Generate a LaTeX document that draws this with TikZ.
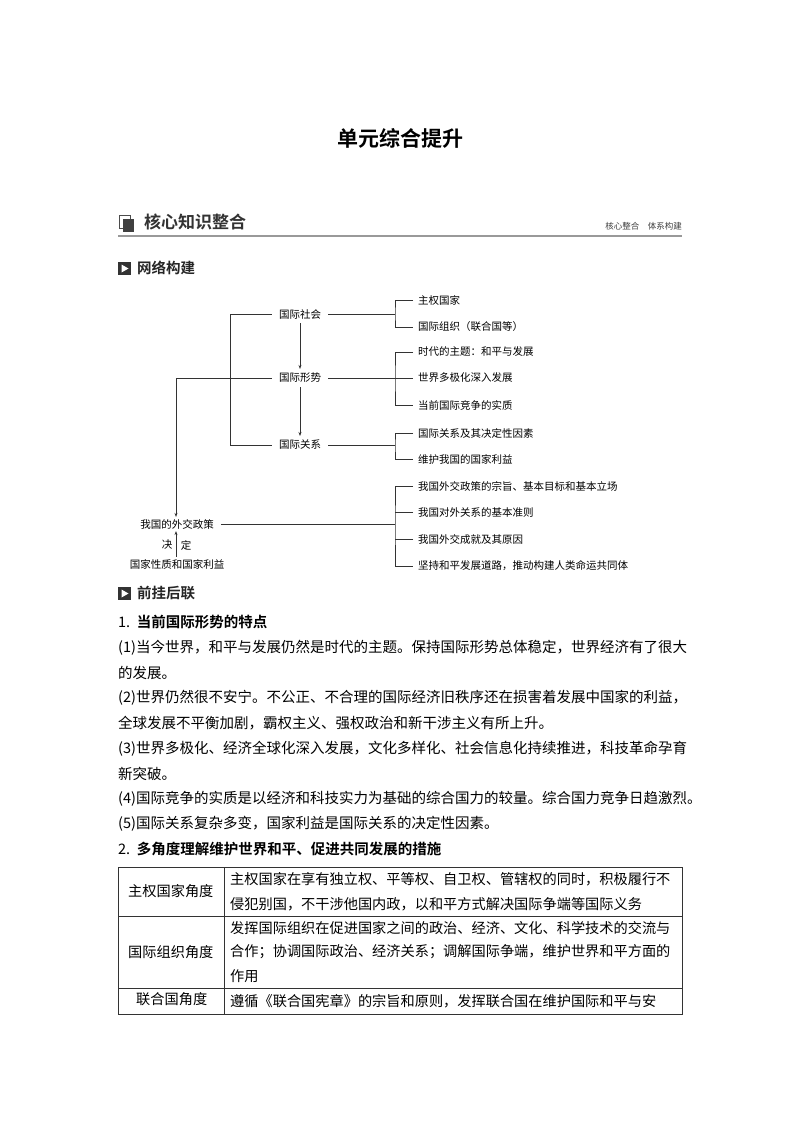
\documentclass[tikz,border=0pt]{standalone}
\usepackage{fontspec}
\setmainfont{Noto Sans CJK SC}
\newfontfamily\cjkb{Noto Sans CJK SC Bold}
\usetikzlibrary{arrows.meta}
\tikzset{
 d/.style={font=\fontsize{10.5}{12}\selectfont,inner xsep=7pt,inner ysep=4pt},
 dl/.style={d,anchor=west,inner xsep=5pt},
 ln/.style={draw=black!80,line width=0.6pt},
 arr/.style={ln,-{Stealth[length=4pt,width=3pt]}},
 body/.style={anchor=west,inner sep=0pt,font=\fontsize{14.5}{16}\selectfont},
 hd/.style={anchor=west,inner sep=0pt,font=\cjkb\fontsize{14.5}{16}\selectfont},
 cell/.style={anchor=west,inner sep=0pt,font=\fontsize{14.2}{16}\selectfont}
}
\begin{document}
\begin{tikzpicture}[x=1pt,y=-1pt]
\useasboundingbox (0,0) rectangle (800,1132);
\fill[white] (0,0) rectangle (800,1132);
\node[font=\cjkb\fontsize{21}{24}\selectfont] (title) at (400,138) {单元综合提升};
% header
\draw[black!70,line width=1pt] (119,215) rectangle (130,228);
\fill[black!75] (123,219) rectangle (134,232);
\node[anchor=west,inner sep=0pt,font=\cjkb\fontsize{17}{19}\selectfont,text=black!80] (h1) at (144,222) {核心知识整合};
\node[anchor=east,inner sep=0pt,font=\fontsize{8.5}{10}\selectfont,text=black!75] (h2) at (682,226) {核心整合\quad 体系构建};
\draw[black!40,line width=1.2pt] (118,236) -- (682,236);
\fill[black!80] (118,262) rectangle (131,275);
\fill[white] (121.5,264.5) -- (128.5,268.5) -- (121.5,272.5) -- cycle;
\node[hd,text=black!85] (s1) at (137,268) {网络构建};
% diagram
\node[d] (gs) at (300,314) {国际社会};
\node[d] (gx) at (300,378) {国际形势};
\node[d] (gg) at (300,445) {国际关系};
\node[dl] (a1) at (413,300) {主权国家};
\node[dl] (a2) at (413,327) {国际组织（联合国等）};
\node[dl] (b1) at (413,352) {时代的主题：和平与发展};
\node[dl] (b2) at (413,378) {世界多极化深入发展};
\node[dl] (b3) at (413,405) {当前国际竞争的实质};
\node[dl] (c1) at (413,433) {国际关系及其决定性因素};
\node[dl] (c2) at (413,459) {维护我国的国家利益};
\node[dl] (e1) at (413,486) {我国外交政策的宗旨、基本目标和基本立场};
\node[dl] (e2) at (413,512) {我国对外关系的基本准则};
\node[dl] (e3) at (413,539) {我国外交成就及其原因};
\node[dl] (e4) at (413,566) {坚持和平发展道路，推动构建人类命运共同体};
\node[d,inner ysep=2pt] (wj) at (177,524) {我国的外交政策};
\node[d,inner ysep=2pt] (gj) at (177,564) {国家性质和国家利益};
\node[d,inner sep=1pt] (jue) at (167,545) {决};
\node[d,inner sep=1pt] (ding) at (186,545) {定};
\draw[arr] (gs) -- (gx);
\draw[arr] (gx) -- (gg);
\draw[ln] (gs.west) -- (230,314) -- (230,445) -- (gg.west);
\draw[arr] (gx.west) -- (176,378) -- (wj.north -| 176,0);
\draw[arr] (gj.north -| 176,0) -- (wj.south -| 176,0);
% right brackets
\draw[ln] (gs.east) -- (395,314);
\draw[ln] (a1.west) -| (395,314) |- (a2.west);
\draw[ln] (gx.east) -- (b2.west);
\draw[ln] (b1.west) -| (395,378) |- (b3.west);
\draw[ln] (gg.east) -- (395,445);
\draw[ln] (c1.west) -| (395,445) |- (c2.west);
\draw[ln] (wj.east) -- (395,524);
\draw[ln] (e1.west) -| (395,524) |- (e4.west);
\draw[ln] (e2.west) -- (395,512);
\draw[ln] (e3.west) -- (395,539);
% section 2
\fill[black!80] (118,587) rectangle (131,600);
\fill[white] (121.5,589.5) -- (128.5,593.5) -- (121.5,597.5) -- cycle;
\node[hd,text=black!85] (s2) at (137,593) {前挂后联};
\node[body] (t0) at (118,622) {1.\ \ {\cjkb 当前国际形势的特点}};
\node[body] (t1) at (118,648) {(1)当今世界，和平与发展仍然是时代的主题。保持国际形势总体稳定，世界经济有了很大};
\node[body] (t2) at (118,673) {的发展。};
\node[body] (t3) at (118,698) {(2)世界仍然很不安宁。不公正、不合理的国际经济旧秩序还在损害着发展中国家的利益，};
\node[body] (t4) at (118,723) {全球发展不平衡加剧，霸权主义、强权政治和新干涉主义有所上升。};
\node[body] (t5) at (118,749) {(3)世界多极化、经济全球化深入发展，文化多样化、社会信息化持续推进，科技革命孕育};
\node[body] (t6) at (118,774) {新突破。};
\node[body] (t7) at (118,799) {(4)国际竞争的实质是以经济和科技实力为基础的综合国力的较量。综合国力竞争日趋激烈。};
\node[body] (t8) at (118,824) {(5)国际关系复杂多变，国家利益是国际关系的决定性因素。};
\node[body] (t9) at (118,849) {2.\ \ {\cjkb 多角度理解维护世界和平、促进共同发展的措施}};
% table
\draw[black!80,line width=0.7pt] (118,867) rectangle (682,1014);
\draw[black!80,line width=0.7pt] (118,916) -- (682,916) (118,988) -- (682,988) (224,867) -- (224,1014);
\node[cell] (r1a) at (128,891) {主权国家角度};
\node[cell] (r1b) at (230,879) {主权国家在享有独立权、平等权、自卫权、管辖权的同时，积极履行不};
\node[cell] (r1c) at (230,904) {侵犯别国，不干涉他国内政，以和平方式解决国际争端等国际义务};
\node[cell] (r2a) at (128,952) {国际组织角度};
\node[cell] (r2b) at (230,928) {发挥国际组织在促进国家之间的政治、经济、文化、科学技术的交流与};
\node[cell] (r2c) at (230,952) {合作；协调国际政治、经济关系；调解国际争端，维护世界和平方面的};
\node[cell] (r2d) at (230,976) {作用};
\node[cell] (r3a) at (136,999) {联合国角度};
\node[cell] (r3b) at (230,1001) {遵循《联合国宪章》的宗旨和原则，发挥联合国在维护国际和平与安};
\end{tikzpicture}
\end{document}
